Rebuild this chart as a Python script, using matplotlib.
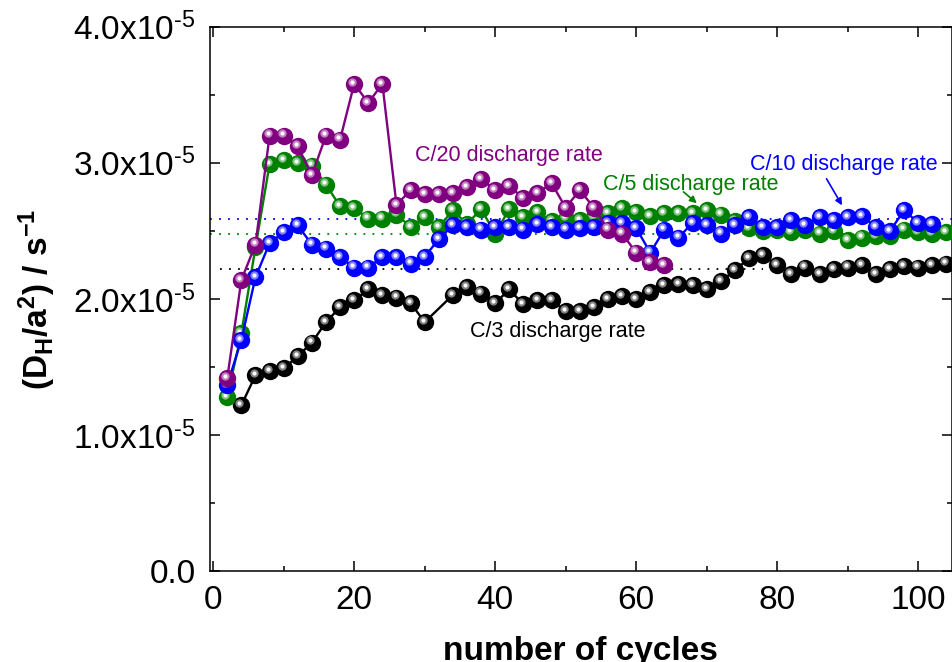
import numpy as np
import matplotlib
matplotlib.use("Agg")
import matplotlib.pyplot as plt
from matplotlib.ticker import MultipleLocator, FuncFormatter
from matplotlib.transforms import offset_copy
from matplotlib.colors import to_rgb

plt.rcParams['font.family'] = ['Liberation Sans', 'DejaVu Sans']
plt.rcParams['mathtext.fontset'] = 'custom'
plt.rcParams['mathtext.rm'] = 'Liberation Sans'
plt.rcParams['mathtext.it'] = 'Liberation Sans:italic'
plt.rcParams['mathtext.bf'] = 'Liberation Sans:bold'

# data, D/a^2 in units of 1e-5 s^-1
black_x = [4, 6, 8, 10, 12, 14, 16, 18, 20, 22, 24, 26, 28, 30,
           34, 36, 38, 40, 42, 44, 46, 48, 50, 52, 54, 56, 58, 60, 62, 64, 66, 68,
           70, 72, 74, 76, 78, 80, 82, 84, 86, 88, 90, 92, 94, 96, 98, 100, 102, 104]
black_y = [1.22, 1.44, 1.47, 1.49, 1.58, 1.68, 1.83, 1.94, 1.99, 2.07, 2.03, 2.01, 1.97, 1.83,
           2.03, 2.09, 2.04, 1.97, 2.07, 1.96, 1.99, 1.99, 1.91, 1.91, 1.94, 2.00, 2.02, 2.00, 2.05,
           2.10, 2.11, 2.10, 2.07, 2.13, 2.21, 2.30, 2.32, 2.25, 2.18, 2.23, 2.18, 2.22, 2.23, 2.25,
           2.18, 2.22, 2.24, 2.23, 2.25, 2.26]

green_x = list(range(2, 105, 2))
green_y = [1.28, 1.75, 2.38, 2.99, 3.02, 3.00, 2.98, 2.84, 2.68, 2.67, 2.59, 2.59, 2.62, 2.53,
           2.60, 2.53, 2.65, 2.55, 2.66, 2.48, 2.66, 2.60, 2.64, 2.57, 2.59, 2.58, 2.60, 2.63,
           2.67, 2.64, 2.61, 2.63, 2.63, 2.63, 2.65, 2.62, 2.57, 2.52, 2.50, 2.51, 2.49, 2.51,
           2.48, 2.50, 2.43, 2.45, 2.46, 2.46, 2.51, 2.49, 2.48, 2.49]

blue_x = list(range(2, 103, 2))
blue_y = [1.37, 1.70, 2.16, 2.41, 2.49, 2.54, 2.40, 2.37, 2.31, 2.23, 2.23, 2.31, 2.31, 2.26,
          2.31, 2.44, 2.54, 2.53, 2.51, 2.53, 2.53, 2.51, 2.55, 2.53, 2.51, 2.52, 2.53, 2.56,
          2.56, 2.52, 2.34, 2.51, 2.45, 2.56, 2.54, 2.48, 2.54, 2.60, 2.53, 2.53, 2.58, 2.54,
          2.60, 2.58, 2.60, 2.61, 2.53, 2.50, 2.65, 2.56, 2.55]

purple_x = list(range(2, 65, 2))
purple_y = [1.42, 2.14, 2.40, 3.20, 3.20, 3.12, 2.91, 3.20, 3.17, 3.58, 3.44, 3.58, 2.69, 2.80,
            2.77, 2.77, 2.78, 2.82, 2.88, 2.80, 2.83, 2.74, 2.78, 2.85, 2.67, 2.80, 2.67, 2.51,
            2.48, 2.34, 2.27, 2.25]

# dotted reference levels
ref_blue = 2.59
ref_green = 2.48
ref_black = 2.22

SCALE = 1e-5


def sphere_plot(ax, fig, x, y, color, z):
    y = np.array(y) * SCALE
    ax.plot(x, y, '-', color=color, lw=1.7, zorder=z)
    ax.plot(x, y, 'o', color=color, ms=12.5, mew=0, zorder=z + 0.1)
    r, g, b = to_rgb(color)
    light = (0.5 * r + 0.5, 0.5 * g + 0.5, 0.5 * b + 0.5)
    tr = offset_copy(ax.transData, fig=fig, x=-1.4, y=1.6, units='points')
    ax.plot(x, y, 'o', color=light, ms=6.0, mew=0, transform=tr, zorder=z + 0.2)
    ax.plot(x, y, 'o', color='white', ms=3.0, mew=0, transform=tr, zorder=z + 0.3)


fig = plt.figure(figsize=(9.53, 6.62), dpi=100)
ax = fig.add_axes([0.22, 0.1369, 0.779, 0.8229])

ax.hlines(ref_blue * SCALE, -0.5, 105, colors='blue', linestyles=(0, (1, 4)), lw=1.3, zorder=1)
ax.hlines(ref_green * SCALE, -0.5, 105, colors='green', linestyles=(0, (1, 4)), lw=1.3, zorder=1)
ax.hlines(ref_black * SCALE, 1, 78, colors='black', linestyles=(0, (1, 4)), lw=1.3, zorder=1)

sphere_plot(ax, fig, black_x, black_y, 'black', 2)
sphere_plot(ax, fig, green_x, green_y, '#008000', 3)
sphere_plot(ax, fig, blue_x, blue_y, '#0000ff', 4)
sphere_plot(ax, fig, purple_x, purple_y, '#800080', 5)

fs = 15.5
ax.text(28.6, 3.015 * SCALE, 'C/20 discharge rate', color='#800080', fontsize=fs, va='baseline')
ax.text(55.3, 2.80 * SCALE, 'C/5 discharge rate', color='#008000', fontsize=fs, va='baseline')
ax.text(76.2, 2.95 * SCALE, 'C/10 discharge rate', color='#0000ff', fontsize=fs, va='baseline')
ax.text(36.4, 1.72 * SCALE, 'C/3 discharge rate', color='black', fontsize=fs, va='baseline')
ax.annotate('', xy=(68.9, 2.69 * SCALE), xytext=(66.4, 2.80 * SCALE),
            arrowprops=dict(arrowstyle='-|>', color='#008000', lw=1.2, mutation_scale=10), zorder=6)
ax.annotate('', xy=(89.4, 2.67 * SCALE), xytext=(86.8, 2.90 * SCALE),
            arrowprops=dict(arrowstyle='-|>', color='#0000ff', lw=1.2, mutation_scale=10), zorder=6)

ax.set_xlim(-0.5, 104.8)
ax.set_ylim(0, 4.0 * SCALE)
ax.xaxis.set_major_locator(MultipleLocator(20))
ax.xaxis.set_minor_locator(MultipleLocator(10))
ax.yaxis.set_major_locator(MultipleLocator(1e-5))
ax.yaxis.set_minor_locator(MultipleLocator(0.5e-5))


def yfmt(v, pos):
    m = v / SCALE
    if abs(m) < 1e-9:
        return '0.0'
    return '%.1fx10$^{\\text{-5}}$' % m


ax.yaxis.set_major_formatter(FuncFormatter(yfmt))
ax.tick_params(which='both', direction='in', top=True, right=True, width=1.1, labelsize=24, pad=10)
ax.tick_params(which='major', length=7)
ax.tick_params(which='minor', length=3.5)
for s in ax.spines.values():
    s.set_linewidth(1.1)

ax.set_xlabel('number of cycles', fontsize=24, fontweight='bold', labelpad=14)
ax.set_ylabel(r'$\mathbf{(D_H/a^2)\ /\ s^{-1}}$', fontsize=24, labelpad=11)

fig.savefig('out.png', dpi=100)
